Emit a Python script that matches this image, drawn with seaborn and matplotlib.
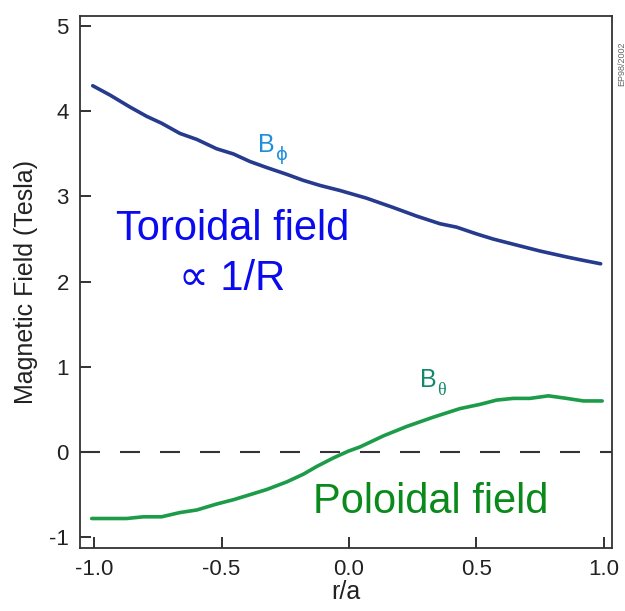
import matplotlib
matplotlib.use("Agg")
import matplotlib.pyplot as plt
import seaborn as sns
import pandas as pd

# Toroidal field B_phi
r_tor = [-1.005, -0.937, -0.859, -0.793, -0.735, -0.663, -0.597, -0.519, -0.454,
         -0.388, -0.323, -0.244, -0.180, -0.114, -0.035, 0.069, 0.174, 0.265,
         0.357, 0.422, 0.501, 0.566, 0.644, 0.749, 0.854, 0.919, 0.987]
b_tor = [4.30, 4.19, 4.05, 3.94, 3.86, 3.74, 3.67, 3.56, 3.50,
         3.41, 3.34, 3.26, 3.19, 3.13, 3.07, 2.98, 2.87, 2.77,
         2.68, 2.64, 2.56, 2.50, 2.44, 2.36, 2.29, 2.25, 2.21]

# Poloidal field B_theta
r_pol = [-1.009, -0.872, -0.807, -0.735, -0.663, -0.597, -0.519, -0.454, -0.388,
         -0.323, -0.244, -0.179, -0.127, -0.062, -0.003, 0.043, 0.135, 0.226,
         0.331, 0.435, 0.514, 0.579, 0.644, 0.710, 0.782, 0.854, 0.919, 0.993]
b_pol = [-0.78, -0.78, -0.76, -0.76, -0.71, -0.68, -0.61, -0.56, -0.50,
         -0.44, -0.35, -0.26, -0.17, -0.07, 0.01, 0.06, 0.19, 0.30,
         0.41, 0.51, 0.56, 0.61, 0.63, 0.63, 0.66, 0.63, 0.60, 0.60]

x_ticks = [-1.0, -0.5, 0.0, 0.5, 1.0]
y_ticks = [-1, 0, 1, 2, 3, 4, 5]

sns.set_theme(style="ticks")
plt.rcParams['font.family'] = ['Liberation Sans', 'DejaVu Sans']

fig = plt.figure(figsize=(6.25, 6.11), dpi=100)
ax = fig.add_axes([0.128, 0.103, 0.851, 0.871])

df_tor = pd.DataFrame({"r": r_tor, "B": b_tor})
df_pol = pd.DataFrame({"r": r_pol, "B": b_pol})

ax.axhline(0, color="#333333", lw=1.5, linestyle=(0, (9.6, 9.6)), zorder=1)
sns.lineplot(data=df_tor, x="r", y="B", ax=ax, color="#263a8e", lw=2.6,
             sort=False, estimator=None)
sns.lineplot(data=df_pol, x="r", y="B", ax=ax, color="#1c9b48", lw=2.6,
             sort=False, estimator=None)

ax.set_xlim(-1.055, 1.031)
ax.set_ylim(-1.127, 5.12)
ax.set_xticks(x_ticks)
ax.set_xticklabels(["-1.0", "-0.5", "0.0", "0.5", "1.0"])
ax.set_yticks(y_ticks)
ax.set_yticklabels([str(v) for v in y_ticks])
ax.tick_params(direction="in", length=8, width=1.3, labelsize=16,
               colors="#222222", pad=8)
for s in ax.spines.values():
    s.set_color("#333333")
    s.set_linewidth(1.3)

ax.set_xlabel("r/a", fontsize=18, color="#222222", labelpad=0)
ax.set_ylabel("Magnetic Field (Tesla)", fontsize=18, color="#222222", labelpad=8)

ax.text(-0.455, 2.49, "Toroidal field", fontsize=30, color="#0a0aee",
        ha="center", va="baseline")
ax.text(-0.46, 1.90, "\u221d 1/R", fontsize=30, color="#0a0aee",
        ha="center", va="baseline")
ax.text(0.32, -0.72, "Poloidal field", fontsize=30, color="#0b8a1c",
        ha="center", va="baseline")

tb = ax.text(-0.355, 3.52, "B", fontsize=18, color="#1f8fdc",
             ha="left", va="baseline")
ax.annotate("\u03d5", xy=(1, 0), xycoords=tb, xytext=(0.3, -2),
            textcoords="offset points", fontsize=13, color="#1f8fdc",
            ha="left", va="baseline", family=["DejaVu Sans"])
tt = ax.text(0.28, 0.76, "B", fontsize=18, color="#12896c",
             ha="left", va="baseline")
ax.annotate("\u03b8", xy=(1, 0), xycoords=tt, xytext=(0.3, -2),
            textcoords="offset points", fontsize=13, color="#12896c",
            ha="left", va="baseline", family=["Liberation Serif"])

fig.text(0.995, 0.895, "EP98/2002", fontsize=6.5, rotation=90,
         ha="center", va="center", color="#666666")

fig.savefig("out.png", dpi=100)
